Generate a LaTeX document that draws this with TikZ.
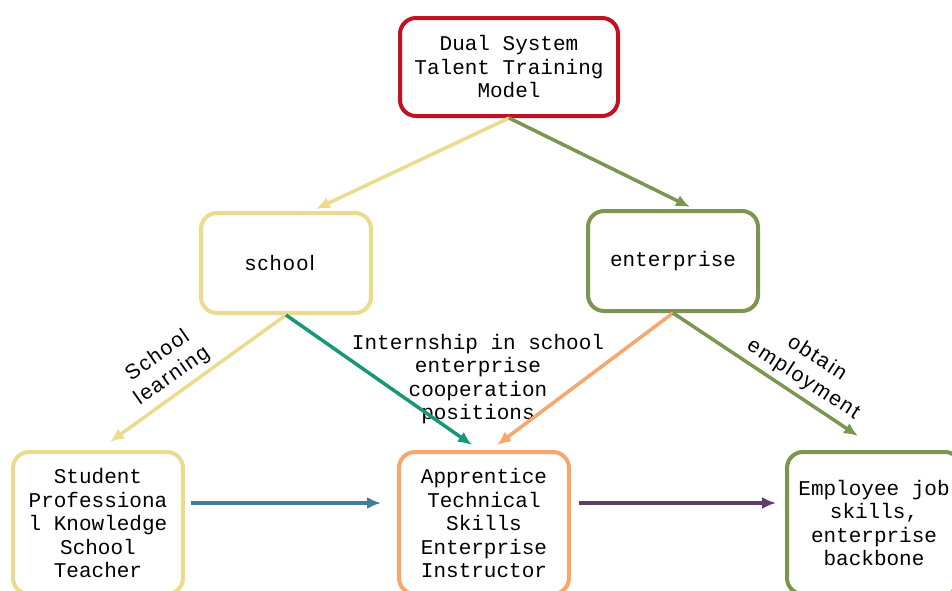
\documentclass[tikz,border=0pt]{standalone}
\usepackage{fontspec}
\setmainfont{Liberation Mono}
\newfontfamily\spacedsans[LetterSpace=8]{Liberation Sans}
\usetikzlibrary{arrows.meta}

\definecolor{modelred}{RGB}{192,18,32}
\definecolor{schoolyellow}{RGB}{234,220,140}
\definecolor{firmgreen}{RGB}{122,150,80}
\definecolor{jobteal}{RGB}{24,150,120}
\definecolor{postorange}{RGB}{249,166,108}
\definecolor{linkblue}{RGB}{63,126,152}
\definecolor{linkpurple}{RGB}{94,63,106}

\newcommand\boxtext{\fontsize{21}{23.5}\selectfont}
\newcommand\edgetext{\spacedsans\fontsize{21}{25}\selectfont}

\begin{document}
\begin{tikzpicture}[x=1pt,y=-1pt,
  box/.style={draw, rounded corners=16pt, line width=4pt, fill=white,
    minimum width=170pt, minimum height=100pt, align=center, font=\boxtext},
  flow/.style={line width=3.5pt, >={Latex[length=14pt,width=12pt]}, ->},
  lab/.style={align=center, font=\boxtext}]

\useasboundingbox (0,0) rectangle (952,590);
\clip (0,0) rectangle (952,590);

% boxes
\node[box, draw=modelred, minimum width=218pt, minimum height=98pt] (model) at (509,67) {Dual System\\Talent Training\\Model};
\node[box, draw=schoolyellow] (school) at (286,263) {\edgetext\hspace*{-12pt}school};
\node[box, draw=firmgreen] (enterprise) at (673,261) {enterprise};
\node[box, draw=schoolyellow, minimum height=142pt] (student) at (98,523) {Student\\Professiona\\l Knowledge\\School\\Teacher};
\node[box, draw=postorange, minimum height=142pt] (apprentice) at (484,523) {Apprentice\\Technical\\Skills\\Enterprise\\Instructor};
\node[box, draw=firmgreen, minimum height=142pt, minimum width=174pt] (employee) at (874,523) {Employee job\\skills,\\enterprise\\backbone};

% labels
\node[lab] (internship) at (478,379) {Internship in school\\enterprise\\cooperation\\positions};
\node[lab, font=\edgetext, rotate=35] (learning) at (165,366) {School\\learning};
\node[lab, font=\edgetext, rotate=-33] (employment) at (810,369) {obtain\\employment};

% arrows
\draw[flow, color=schoolyellow] (model.south) -- ([xshift=30pt,yshift=2pt]school.north);
\draw[flow, color=firmgreen] (model.south) -- ([xshift=17pt,yshift=2pt]enterprise.north);
\draw[flow, color=schoolyellow] (school.south) -- ([xshift=12pt,yshift=8pt]student.north);
\draw[flow, color=jobteal] (school.south) -- ([xshift=-12pt,yshift=5pt]apprentice.north);
\draw[flow, color=postorange] (enterprise.south) -- ([xshift=13pt,yshift=5pt]apprentice.north);
\draw[flow, color=firmgreen] (enterprise.south) -- ([xshift=-16pt,yshift=14pt]employee.north);
\draw[flow, color=linkblue] ([xshift=6pt,yshift=20pt]student.east) -- ([xshift=-16pt,yshift=20pt]apprentice.west);
\draw[flow, color=linkpurple] ([xshift=8pt,yshift=20pt]apprentice.east) -- ([xshift=-9pt,yshift=20pt]employee.west);
\end{tikzpicture}
\end{document}
